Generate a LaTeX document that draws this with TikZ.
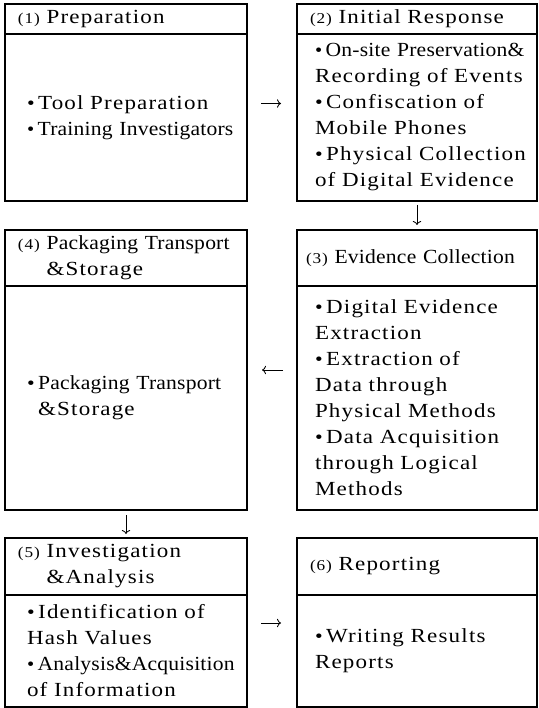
\documentclass[tikz,border=0pt]{standalone}
\usepackage{fontspec}
\setmainfont{Liberation Serif}[FakeStretch=1.15, LetterSpace=6]
\newfontfamily\tight{Liberation Serif}[FakeStretch=1.08, LetterSpace=1]
\usetikzlibrary{arrows.meta, positioning}
\newcommand{\stepno}[1]{{\fontsize{15pt}{15pt}\selectfont(#1)}}
\newcommand{\bul}{{\fontsize{19pt}{19pt}\selectfont•}\hspace{3.5pt}}

\begin{document}
\begin{tikzpicture}[
    x=1pt, y=-1pt,
    font=\fontsize{20pt}{26pt}\selectfont,
    box/.style={draw, line width=1.1pt, align=left, outer sep=0pt,
        inner xsep=4pt, inner ysep=0pt},
    head/.style={box, execute at begin node={\hyphenpenalty=10000 \leftskip=#1}},
    head/.default=9pt,
    body/.style={box, execute at begin node={\hyphenpenalty=10000 \leftskip=#1}},
    body/.default=18pt,
    lcol/.style={minimum width=242pt, text width=234pt},
    rcol/.style={minimum width=240pt, text width=232pt},
    flow/.style={-{To[length=4pt]}, line width=0.8pt},
]
\useasboundingbox (0,0) rectangle (538,708);

% (1) preparation
\node[head, lcol, minimum height=30pt, anchor=north west] (prephead) at (5,4)
    {\stepno{1} Preparation};
\node[body, lcol, minimum height=167pt, below=0pt of prephead] (prep)
    {\bul Tool Preparation\\ {\tight\bul Training Investigators}};

% (2) initial response
\node[head, rcol, minimum height=30pt, right=50pt of prephead] (resphead)
    {\stepno{2} Initial Response};
\node[body=14pt, rcol, minimum height=167pt, below=0pt of resphead] (resp)
    {{\tight\bul On-site Preservation\&}\\ Recording of Events\\
     \bul Confiscation of\\ Mobile Phones\\
     \bul Physical Collection\\ of Digital Evidence};

% (3) evidence collection
\node[head=5pt, rcol, minimum height=56pt, below=29pt of resp] (collhead)
    {\stepno{3} {\tight Evidence~Collection}};
\node[body=14pt, rcol, minimum height=224pt, below=0pt of collhead] (coll)
    {\bul Digital Evidence\\ Extraction\\
     \bul Extraction of\\ Data through\\ Physical Methods\\
     \bul Data Acquisition\\ through Logical\\ Methods};

% (4) packaging
\node[head, lcol, minimum height=56pt, left=50pt of collhead] (packhead)
    {\stepno{4} {\tight Packaging Transport}\\ \phantom{\stepno{4} }\&Storage};
\node[body, lcol, minimum height=224pt, below=0pt of packhead] (pack)
    {\bul{\tight Packaging Transport}\\ \phantom{\bul}\&Storage};

% (5) investigation
\node[head, lcol, minimum height=57pt, below=28pt of pack] (invhead)
    {\stepno{5} Investigation\\ \phantom{\stepno{5} }\&Analysis};
\node[body, lcol, minimum height=112pt, below=0pt of invhead] (inv)
    {\bul Identification of\\ Hash Values\\
     {\tight\bul Analysis\&Acquisition}\\ of Information};

% (6) reporting
\node[head, rcol, minimum height=57pt, right=50pt of invhead] (rephead)
    {\stepno{6} Reporting};
\node[body=14pt, rcol, minimum height=112pt, below=0pt of rephead] (rep)
    {\bul Writing Results\\ Reports};

% flow between the stages
\draw[flow, shorten <=14pt, shorten >=16pt]
    ([yshift=14pt]prep.east) -- ([yshift=14pt]resp.west);
\draw[flow, shorten <=4pt, shorten >=5pt] (resp.south) -- (collhead.north);
\draw[flow, shorten <=14pt, shorten >=15pt]
    ([yshift=28pt]coll.west) -- ([yshift=28pt]pack.east);
\draw[flow, shorten <=5pt, shorten >=4pt] (pack.south) -- (invhead.north);
\draw[flow, shorten <=14pt, shorten >=16pt]
    ([yshift=28pt]inv.east) -- ([yshift=28pt]rep.west);

\end{tikzpicture}
\end{document}
